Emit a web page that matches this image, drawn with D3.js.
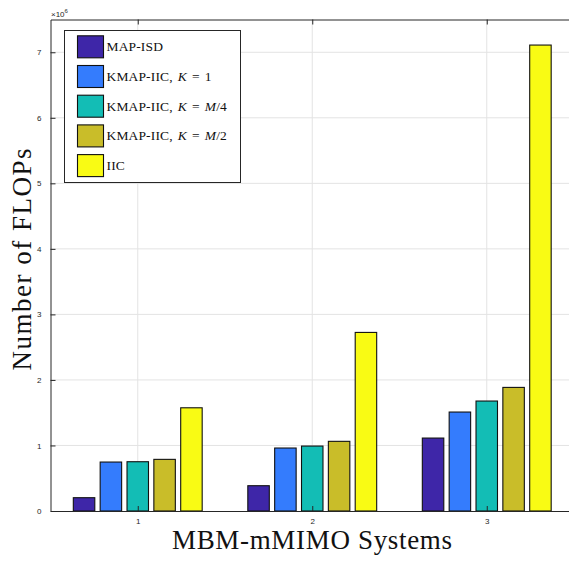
<!DOCTYPE html>
<html><head><meta charset="utf-8">
<script src="https://cdn.jsdelivr.net/npm/d3@7"></script>
<style>body{margin:0;background:#fff;} svg{display:block;}</style>
</head><body>
<svg id="c" width="569" height="561"></svg>
<script>
// ---- data ----
const categories = [1, 2, 3];
const seriesNames = ["MAP-ISD", "KMAP-IIC, K=1", "KMAP-IIC, K=M/4", "KMAP-IIC, K=M/2", "IIC"];
const mapIsd   = [0.203e6, 0.386e6, 1.113e6];
const kmapK1   = [0.747e6, 0.961e6, 1.510e6];
const kmapKM4  = [0.752e6, 0.991e6, 1.678e6];
const kmapKM2  = [0.788e6, 1.063e6, 1.886e6];
const iic      = [1.575e6, 2.725e6, 7.110e6];
const seriesValues = [mapIsd, kmapK1, kmapKM4, kmapKM2, iic];
const yTicks = [0, 1e6, 2e6, 3e6, 4e6, 5e6, 6e6, 7e6];
const colors = ["#3e26a8", "#347cfd", "#13bdb5", "#c9bd29", "#f9fb14"];
const legendParts = [
  [["MAP-ISD","n"]],
  [["KMAP-IIC, ","n"],["K","i"],[" = 1","n"]],
  [["KMAP-IIC, ","n"],["K","i"],[" = ","n"],["M","i"],["/4","n"]],
  [["KMAP-IIC, ","n"],["K","i"],[" = ","n"],["M","i"],["/2","n"]],
  [["IIC","n"]]
];

const svg = d3.select("#c");
const L = 50.5, R = 574, T = 19.5, B = 511;
const x = d3.scaleLinear().domain([0.5, 3.5]).range([L, R]);
const y = d3.scaleLinear().domain([0, 7.5e6]).range([B, T]);
const serif = "'Liberation Serif', 'Times New Roman', serif";
const sans = "'Liberation Sans', Arial, Helvetica, sans-serif";
const axisCol = "#262626";

// grid
const g = svg.append("g");
g.selectAll(".gy").data(yTicks.slice(1)).join("line")
  .attr("x1", L).attr("x2", R).attr("y1", d => y(d)).attr("y2", d => y(d))
  .attr("stroke", "#e3e3e3").attr("stroke-width", 1);
g.selectAll(".gx").data(categories).join("line")
  .attr("y1", T).attr("y2", B).attr("x1", d => x(d)).attr("x2", d => x(d))
  .attr("stroke", "#e3e3e3").attr("stroke-width", 1);

// bars (MATLAB grouped layout)
const n = seriesValues.length;
const groupW = Math.min(0.8, n / (n + 1.5));
const step = groupW / n;
const barW = step * 0.8;
seriesValues.forEach((vals, si) => {
  const off = -groupW / 2 + step * (si + 0.5);
  svg.append("g").selectAll("rect").data(vals).join("rect")
    .attr("x", (d, i) => x(categories[i] + off - barW / 2))
    .attr("width", (d, i) => x(categories[i] + off + barW / 2) - x(categories[i] + off - barW / 2))
    .attr("y", d => y(d))
    .attr("height", d => y(0) - y(d))
    .attr("fill", colors[si])
    .attr("stroke", "#111").attr("stroke-width", 1.1);
});

// axes box
const ax = svg.append("g");
const yAxisL = d3.axisLeft(y).tickValues(yTicks).tickFormat(d => d / 1e6).tickSizeInner(-5).tickSizeOuter(0).tickPadding(9);
const gl = ax.append("g").attr("transform", `translate(${L},0)`).call(yAxisL);
const xAxisB = d3.axisBottom(x).tickValues(categories).tickFormat(d3.format("d")).tickSizeInner(-5).tickSizeOuter(0).tickPadding(11);
const gb = ax.append("g").attr("transform", `translate(0,${B})`).call(xAxisB);
const xAxisT = d3.axisTop(x).tickValues(categories).tickFormat("").tickSizeInner(-5).tickSizeOuter(0);
const gt = ax.append("g").attr("transform", `translate(0,${T})`).call(xAxisT);
const yAxisR = d3.axisRight(y).tickValues(yTicks).tickFormat("").tickSizeInner(-5).tickSizeOuter(0);
const gr = ax.append("g").attr("transform", `translate(${R},0)`).call(yAxisR);
[gl, gb, gt, gr].forEach(a => {
  a.select(".domain").attr("stroke", axisCol).attr("stroke-width", 1);
  a.selectAll(".tick line").attr("stroke", axisCol).attr("stroke-width", 1);
  a.selectAll(".tick text").attr("fill", axisCol).style("font-family", sans).style("font-size", "8px");
});
gb.selectAll(".tick text").attr("dy", "0.2em");

// exponent label
const ex = svg.append("text").attr("x", L + 0.5).attr("y", 16.5)
  .attr("fill", axisCol).style("font-family", sans).style("font-size", "8px");
ex.append("tspan").text("\u00d710");
ex.append("tspan").attr("dy", -4).style("font-size", "6px").text("6");

// axis labels
const xl = svg.append("text").attr("x", 312).attr("y", 549).attr("text-anchor", "middle")
  .attr("fill", "#111").style("font-family", serif).style("font-size", "27px")
  .attr("textLength", 280).attr("lengthAdjust", "spacing").text("MBM-mMIMO Systems");
const yl = svg.append("text").attr("transform", "translate(31,259.5) rotate(-90)").attr("text-anchor", "middle")
  .attr("fill", "#111").style("font-family", serif).style("font-size", "27px")
  .attr("textLength", 222).attr("lengthAdjust", "spacing").text("Number of FLOPs");

// legend
const lg = svg.append("g");
lg.append("rect").attr("x", 64.5).attr("y", 30.5).attr("width", 176).attr("height", 152)
  .attr("fill", "#fff").attr("stroke", axisCol).attr("stroke-width", 1);
legendParts.forEach((parts, i) => {
  const cy = 46.8 + i * 29.7;
  lg.append("rect").attr("x", 77.5).attr("y", cy - 11).attr("width", 26).attr("height", 22)
    .attr("fill", colors[i]).attr("stroke", "#111").attr("stroke-width", 1.1);
  const t = lg.append("text").attr("x", 106.5).attr("y", cy + 4.5).attr("xml:space", "preserve")
    .attr("fill", "#111").style("font-family", serif).style("font-size", "13.5px")
    .style("letter-spacing", "0.15px").style("word-spacing", "1.5px");
  parts.forEach(p => {
    t.append("tspan").style("font-style", p[1] === "i" ? "italic" : "normal").text(p[0]);
  });
});
</script>
</body></html>
